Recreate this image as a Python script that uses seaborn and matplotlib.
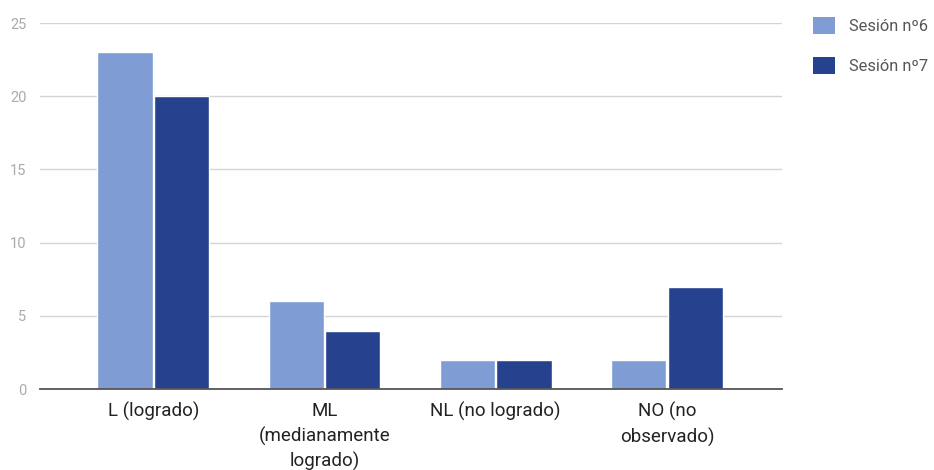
import matplotlib
matplotlib.use("Agg")
import matplotlib.pyplot as plt
import seaborn as sns
import pandas as pd
from matplotlib.patches import Patch

# Data
categorias = ["L (logrado)", "ML\n(medianamente\nlogrado)", "NL (no logrado)", "NO (no\nobservado)"]
sesion_6 = [23, 6, 2, 2]
sesion_7 = [20, 4, 2, 7]
series = ["Sesión nº6", "Sesión nº7"]
colores = ["#7f9dd4", "#26428e"]

df = pd.DataFrame({
    "categoria": categorias * 2,
    "valor": sesion_6 + sesion_7,
    "serie": [series[0]] * len(categorias) + [series[1]] * len(categorias),
})

sns.set_theme(style="white")
plt.rcParams["font.family"] = ["Roboto", "DejaVu Sans"]

fig = plt.figure(figsize=(9.34, 4.70), dpi=100)
ax = fig.add_axes([0.043, 0.172, 0.794, 0.779])

sns.barplot(data=df, x="categoria", y="valor", hue="serie", palette=colores,
            width=0.66, gap=0.02, ax=ax, legend=False, saturation=1)

ax.set_xlim(-0.66, 3.67)
ax.set_ylim(0, 25)
ax.set_yticks([0, 5, 10, 15, 20, 25])
ax.yaxis.grid(True, color="#d4d4d4", linewidth=1)
ax.set_axisbelow(True)
for s in ["top", "right", "left"]:
    ax.spines[s].set_visible(False)
ax.spines["bottom"].set_color("#555555")
ax.spines["bottom"].set_linewidth(1.3)
ax.set_xlabel("")
ax.set_ylabel("")
ax.tick_params(axis="y", length=0, labelsize=10.5, labelcolor="#ababab", pad=10)
ax.tick_params(axis="x", length=0, labelsize=13.5, labelcolor="#222222", pad=9)
for t in ax.get_xticklabels():
    t.set_linespacing(1.45)

handles = [Patch(facecolor=c, edgecolor="none") for c in colores]
fig.legend(handles, series, loc="upper left", bbox_to_anchor=(0.848, 1.01),
           frameon=False, fontsize=11.8, labelcolor="#555555",
           handlelength=1.3, handleheight=1.3, handletextpad=0.85,
           labelspacing=1.35, borderaxespad=0.9)

fig.savefig("out.png", dpi=100)
